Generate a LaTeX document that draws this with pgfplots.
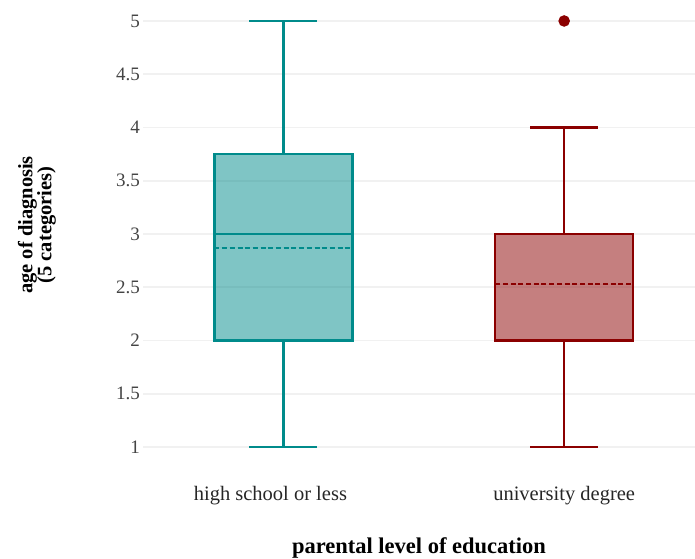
\documentclass[border=0pt]{standalone}
\usepackage{fontspec}
\setmainfont{Liberation Serif}
\usepackage{pgfplots}
\pgfplotsset{compat=1.18}
\usepgfplotslibrary{statistics}
\definecolor{tealc}{RGB}{0,139,139}
\definecolor{redc}{RGB}{139,0,0}
\definecolor{gridc}{RGB}{241,241,241}
\definecolor{tickc}{RGB}{68,68,68}
\begin{document}
\begin{tikzpicture}
\path[use as bounding box] (0,0) rectangle (695pt,558pt);
\begin{axis}[
  at={(143pt,89.7pt)}, anchor=south west,
  scale only axis, width=552pt, height=468.3pt,
  xmin=0.5, xmax=2.466, ymin=0.8, ymax=5.197,
  axis line style={draw=none},
  boxplot/draw direction=y,
  ymajorgrids, grid style={gridc, line width=1.6pt},
  xtick={1,2}, xticklabels={\hspace*{-26pt}high school or less, university degree},
  ytick={1,1.5,...,5},
  major tick length=0pt,
  /pgf/number format/assume math mode=true,
  xticklabel style={font=\fontsize{20.5}{24}\selectfont, text=black!85, anchor=base, yshift=-31.7pt},
  yticklabel style={font=\fontsize{19}{22}\selectfont, text=tickc, inner sep=0pt, xshift=-3pt},
  xlabel={\textbf{parental level of education}},
  xlabel style={font=\fontsize{22.5}{26}\selectfont, at={(axis description cs:0.5,0)}, anchor=base, yshift=-84.7pt},
  ylabel={\textbf{age of diagnosis}\\\textbf{(5 categories)}},
  ylabel style={font=\fontsize{20.5}{19}\selectfont, align=center, at={(axis description cs:-0.192,0.5196)}, anchor=center},
  boxplot/draw/median/.code={%
    \pgfsetlinewidth{2.6pt}%
    \draw[line width=2.6pt]
      (boxplot box cs:\pgfplotsboxplotvalue{median},0) --
      (boxplot box cs:\pgfplotsboxplotvalue{median},1);
  },
  boxplot/draw/average/.code={%
    \draw[line width=2.6pt, dash pattern=on 5pt off 2.7pt]
      (boxplot box cs:\pgfplotsboxplotvalue{average},0) --
      (boxplot box cs:\pgfplotsboxplotvalue{average},1);
  },
]
\addplot[draw=tealc, fill=tealc, fill opacity=0.5, line width=2.4pt,
  boxplot prepared={lower whisker=1, lower quartile=2, median=3,
    upper quartile=3.75, upper whisker=5, average=2.87,
    draw position=1, box extend=0.491, whisker extend=0.242}]
  coordinates {};
\addplot[draw=redc, fill=redc, fill opacity=0.5, line width=2.4pt,
  mark=*, mark size=4.5pt, mark options={draw=none, fill=redc, fill opacity=1},
  boxplot prepared={lower whisker=1, lower quartile=2, median=2,
    upper quartile=3, upper whisker=4, average=2.53,
    draw position=2, box extend=0.491, whisker extend=0.242}]
  table[row sep=\\, y index=0] {5\\};
\draw[tealc, line width=2.6pt] (axis cs:0.7555,3) -- (axis cs:1.2445,3);
\end{axis}
\end{tikzpicture}
\end{document}
